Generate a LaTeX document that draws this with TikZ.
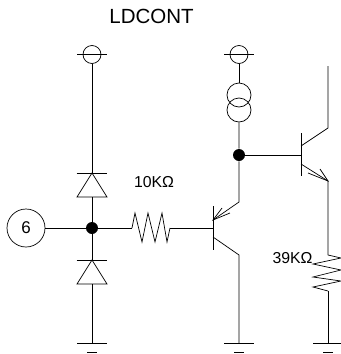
\documentclass[tikz,border=0pt]{standalone}
\usepackage{fontspec}
\setmainfont{Liberation Sans}
\tikzset{
	dot/.style={circle,inner sep=0pt,fill=black,minimum size=3.6mm},
	rail/.style={circle,draw,inner sep=0pt,minimum size=5.4mm},
	coil/.style={circle,draw,inner sep=0pt,minimum size=7.2mm},
	pin/.style={circle,draw,inner sep=0pt,minimum size=11.4mm},
	lbl/.style={inner sep=0pt,font=\fontsize{13.5}{16}\selectfont},
}
\begin{document}
\begin{tikzpicture}[x=0.3mm,y=-0.3mm,line width=0.6pt]
	\useasboundingbox (0,0) rectangle (341,354);
	\node[lbl,font=\fontsize{17.5}{20}\selectfont] (title) at (151.5,16) {LDCONT};
	\node[lbl] (r1label) at (154,182) {10KΩ};
	\node[lbl] (r2label) at (292.5,258) {39KΩ};
	% left column
	\node[rail] (V1) at (92,54.5) {};
	\node[pin,lbl,font=\fontsize{14.5}{16}\selectfont] (P6) at (26,228) {6};
	\node[dot] (J1) at (92,228) {};
	\coordinate (D1) at (92,173);
	\coordinate (D1b) at (92,197);
	\coordinate (D2) at (92,260);
	\coordinate (D2b) at (92,284);
	\coordinate (G1) at (92,343);
	\coordinate (R1a) at (132,228);
	\coordinate (R1b) at (170,228);
	\draw (V1) -- (D1);
	\draw (D1b) -- (J1) -- (D2);
	\draw (D2b) -- (G1);
	\draw (P6) -- (J1) -- (R1a);
	\foreach \S in {1,2}{
		\draw (76.5,\S*87+86) -- (106.5,\S*87+86);
		\draw (D\S) -- (77,\S*87+110) -- (107,\S*87+110) -- cycle;
	}
	\draw (R1a) -- (135,213) -- (142,242) -- (148,213) -- (155,242) -- (162,213) -- (167,242) -- (R1b);
	% middle column
	\node[rail] (V2) at (239,54.5) {};
	\node[coil] (C1) at (239,95) {};
	\node[coil] (C2) at (239,110) {};
	\node[dot] (J2) at (239,155) {};
	\coordinate (B1) at (213,228);
	\coordinate (E1) at (213,220);
	\coordinate (E1k) at (239,202);
	\coordinate (K1) at (213,237);
	\coordinate (K1k) at (239,255);
	\coordinate (G2) at (239,343);
	\draw (V2) -- (C1);
	\draw (C2) -- (J2) -- (E1k) -- (E1);
	\draw (R1b) -- (B1);
	\draw (213,206) -- (213,250);
	\draw (K1) -- (K1k) -- (G2);
	\draw (222,208) -- (E1) -- (230,213);
	% right column
	\coordinate (B2) at (301,155);
	\coordinate (K2) at (301,146);
	\coordinate (K2k) at (328,128);
	\coordinate (T2) at (328,66);
	\coordinate (E2) at (301,164);
	\coordinate (E2k) at (328,181);
	\coordinate (R2a) at (328,255);
	\coordinate (R2b) at (328,291);
	\coordinate (G3) at (328,343);
	\draw (J2) -- (B2);
	\draw (301,133) -- (301,176);
	\draw (K2) -- (K2k) -- (T2);
	\draw (E2) -- (E2k) -- (R2a);
	\draw (320,169) -- (E2k) -- (308,173);
	\draw (R2a) -- (341,258) -- (313,264) -- (341,270) -- (313,277) -- (341,281) -- (313,287) -- (R2b);
	\draw (R2b) -- (G3);
	% rails and grounds
	\foreach \X in {92,239}
		\draw (\X-15,54.5) -- (\X+15,54.5);
	\foreach \X in {92,239,328}{
		\draw (\X-15,343) -- (\X+15,343);
		\draw[line width=1pt] (\X-5,352.5) -- (\X+5,352.5);
	}
\end{tikzpicture}
\end{document}
